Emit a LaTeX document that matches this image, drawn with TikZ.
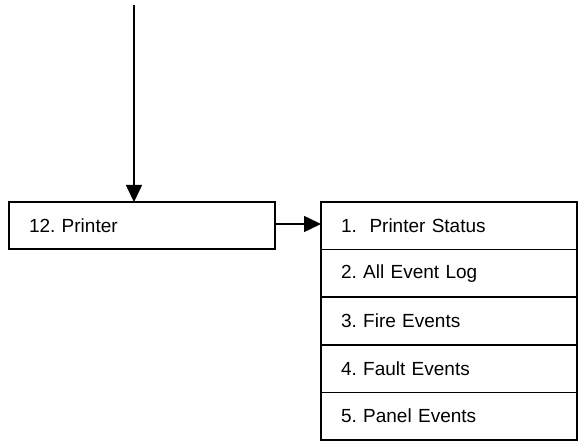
\documentclass[tikz,border=0pt]{standalone}
\usepackage{fontspec}
\setmainfont{Liberation Sans}
\usetikzlibrary{arrows.meta}
\begin{document}
\frenchspacing
\begin{tikzpicture}[x=1pt,y=-1pt,
  box/.style={draw,line width=1.6pt,anchor=north west,outer sep=0pt,inner xsep=20pt,inner ysep=0pt,
    text width=#1,align=left,minimum height=47.6pt,font=\fontsize{19}{22}\selectfont},
  conn/.style={line width=1.6pt,-{Triangle[length=17pt,width=16pt]}}]
\useasboundingbox (0,0) rectangle (579,443);
\coordinate (top) at (134,5);
\node[box=226pt,minimum height=47pt] (printer) at (9,202) {12. Printer};
\node[box=216pt] (s1) at (321,202) {1.\ \ Printer Status};
\node[box=216pt] (s2) at (s1.south west) {2. All Event Log};
\node[box=216pt] (s3) at (s2.south west) {3. Fire Events};
\node[box=216pt] (s4) at (s3.south west) {4. Fault Events};
\node[box=216pt] (s5) at (s4.south west) {5. Panel Events};
\draw[conn] (top) -- (top |- printer.north);
\draw[conn] (printer.east |- 0,224) -- (s1.west |- 0,224);
\end{tikzpicture}
\end{document}
